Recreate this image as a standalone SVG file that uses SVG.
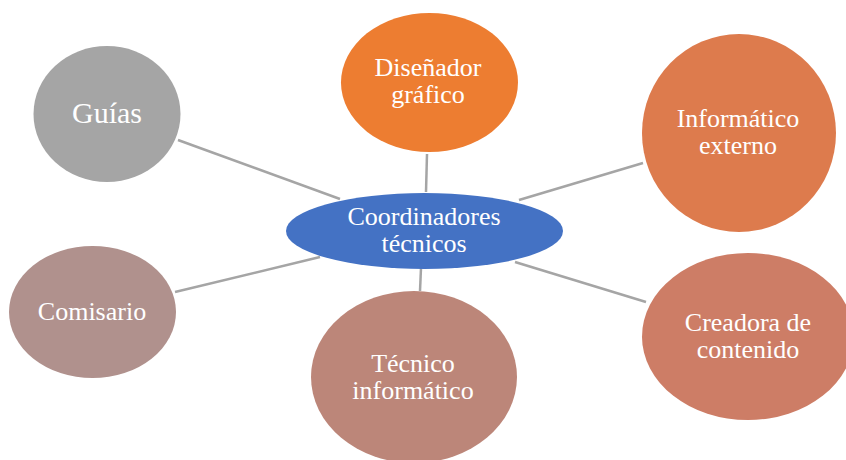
<svg xmlns="http://www.w3.org/2000/svg" width="846" height="460" viewBox="0 0 846 460">
<style>
.t{font-family:"Liberation Serif","Times New Roman",serif;font-size:26px;fill:#fff;text-anchor:middle}
.c{stroke:#A5A5A5;stroke-width:2.5;fill:none}
</style>
<rect width="846" height="460" fill="#fff"/>
<g id="connectors">
<line class="c" x1="178" y1="140" x2="340" y2="199"/>
<line class="c" x1="427" y1="154" x2="426" y2="192"/>
<line class="c" x1="519" y1="200" x2="643" y2="163"/>
<line class="c" x1="175" y1="292" x2="320" y2="257"/>
<line class="c" x1="421" y1="268" x2="420" y2="291"/>
<line class="c" x1="515" y1="262" x2="646" y2="302"/>
</g>
<g id="guias">
<ellipse cx="107" cy="114" rx="73.5" ry="68" fill="#A5A5A5"/>
<text class="t" x="107" y="123" style="font-size:30px">Guías</text>
</g>
<g id="disenador">
<ellipse cx="429.5" cy="82.5" rx="88.5" ry="69.5" fill="#ED7D31"/>
<text class="t" x="428" y="76">Diseñador</text>
<text class="t" x="428" y="103">gráfico</text>
</g>
<g id="informatico-externo">
<ellipse cx="739" cy="133" rx="97" ry="99" fill="#DD7B4D"/>
<text class="t" x="738" y="127">Informático</text>
<text class="t" x="738" y="154">externo</text>
</g>
<g id="coordinadores">
<ellipse cx="424.5" cy="231" rx="138.5" ry="38" fill="#4472C4"/>
<text class="t" x="424" y="225">Coordinadores</text>
<text class="t" x="424" y="252">técnicos</text>
</g>
<g id="comisario">
<ellipse cx="92.5" cy="312" rx="83.5" ry="66" fill="#B0918D"/>
<text class="t" x="92" y="320">Comisario</text>
</g>
<g id="tecnico-informatico">
<ellipse cx="414" cy="377" rx="103" ry="86" fill="#BC8679"/>
<text class="t" x="413" y="372">Técnico</text>
<text class="t" x="413" y="399">informático</text>
</g>
<g id="creadora">
<ellipse cx="748" cy="336.5" rx="106" ry="83.5" fill="#CD7D66"/>
<text class="t" x="748" y="331">Creadora de</text>
<text class="t" x="748" y="358">contenido</text>
</g>
</svg>
